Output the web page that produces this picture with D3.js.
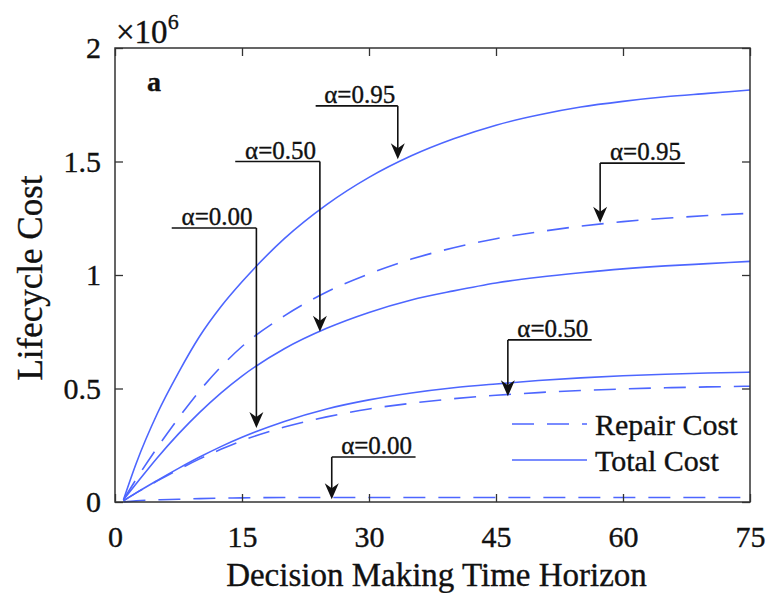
<!DOCTYPE html>
<html>
<head>
<meta charset="utf-8">
<script src="https://cdn.jsdelivr.net/npm/d3@7"></script>
<style>
  body { margin: 0; background: #fff; }
  text { font-family: "Liberation Serif", "Times New Roman", serif; fill: #111; stroke: #111; stroke-width: 0.35px; }
</style>
</head>
<body>
<div id="chart"></div>
<script>
// time horizon (years) and lifecycle costs (x 10^6)
const years = [1, 2.5, 5, 7.5, 10, 12.5, 15, 20, 25, 30, 35, 40, 45, 50, 55, 60, 65, 70, 75];
const total95 = [0.01, 0.17, 0.39, 0.57, 0.73, 0.86, 0.97, 1.16, 1.31, 1.43, 1.525, 1.60, 1.66, 1.705, 1.74, 1.765, 1.785, 1.80, 1.815];
const repair95 = [0.01, 0.10, 0.24, 0.37, 0.49, 0.595, 0.685, 0.82, 0.925, 1.005, 1.07, 1.12, 1.16, 1.19, 1.215, 1.235, 1.25, 1.262, 1.272];
const total50 = [0.01, 0.08, 0.195, 0.30, 0.395, 0.48, 0.555, 0.675, 0.765, 0.835, 0.89, 0.93, 0.965, 0.99, 1.01, 1.027, 1.04, 1.05, 1.06];
const total00 = [0.005, 0.04, 0.095, 0.148, 0.198, 0.244, 0.285, 0.355, 0.41, 0.45, 0.48, 0.503, 0.52, 0.535, 0.547, 0.556, 0.563, 0.568, 0.572];
const repair50 = [0.005, 0.04, 0.093, 0.143, 0.19, 0.232, 0.27, 0.33, 0.375, 0.41, 0.435, 0.455, 0.47, 0.482, 0.491, 0.498, 0.503, 0.507, 0.51];
const repair00 = [0.0, 0.005, 0.01, 0.012, 0.015, 0.017, 0.018, 0.02, 0.02, 0.02, 0.02, 0.02, 0.02, 0.02, 0.02, 0.02, 0.02, 0.02, 0.02];

const xTicks = [0, 15, 30, 45, 60, 75];
const yTicks = [0, 0.5, 1, 1.5, 2];

// annotations: label, underline from t0 to t1 at level, arrow at tip (t, value)
const labels = [
  { text: "α=0.95", t0: 23.7, t1: 33.4, level: 1.745, arrowT: 33.4, tip: 1.51 },
  { text: "α=0.50", t0: 14.2, t1: 24.2, level: 1.50, arrowT: 24.2, tip: 0.75 },
  { text: "α=0.00", t0: 6.7, t1: 16.7, level: 1.207, arrowT: 16.7, tip: 0.326 },
  { text: "α=0.95", t0: 57.3, t1: 67.3, level: 1.493, arrowT: 57.3, tip: 1.23 },
  { text: "α=0.50", t0: 46.4, t1: 56.3, level: 0.714, arrowT: 46.4, tip: 0.466 },
  { text: "α=0.00", t0: 25.6, t1: 35.5, level: 0.198, arrowT: 25.6, tip: 0.012 }
];

const series = [
  { values: total95, dashed: false },
  { values: repair95, dashed: true },
  { values: total50, dashed: false },
  { values: total00, dashed: false },
  { values: repair50, dashed: true },
  { values: repair00, dashed: true }
];

const W = 769, H = 593;
const margin = { top: 48, right: 19, bottom: 91, left: 115 };
const width = W - margin.left - margin.right;
const height = H - margin.top - margin.bottom;
const blue = "#4d66ff";
const dash = "22,13";

const svg = d3.select("#chart").append("svg")
    .attr("width", W)
    .attr("height", H);

const g = svg.append("g")
    .attr("transform", `translate(${margin.left},${margin.top})`);

const x = d3.scaleLinear().domain([0, 75]).range([0, width]);
const y = d3.scaleLinear().domain([0, 2]).range([height, 0]);

// curves
const line = d3.line()
    .x((d, i) => x(years[i]))
    .y(d => y(d))
    .curve(d3.curveMonotoneX);

g.selectAll("path.curve")
    .data(series)
    .enter()
    .append("path")
    .attr("class", "curve")
    .attr("d", d => line(d.values))
    .attr("fill", "none")
    .attr("stroke", blue)
    .attr("stroke-width", 1.6)
    .attr("stroke-dasharray", d => d.dashed ? dash : null);

// axes with inward ticks on all sides
const tickLen = 8;
const axisColor = "#333";
function styleAxis(sel) {
    sel.select(".domain").remove();
    sel.selectAll("line").attr("stroke", axisColor).attr("stroke-width", 1.3);
    sel.selectAll("text")
        .style("font-family", "'Liberation Serif', serif")
        .style("font-size", "30px")
        .attr("fill", "#111");
}

g.append("g")
    .attr("transform", `translate(0,${height})`)
    .call(d3.axisBottom(x).tickValues(xTicks).tickSize(-tickLen).tickPadding(24))
    .call(styleAxis)
    .selectAll("text").attr("dy", "0.71em");

g.append("g")
    .call(d3.axisTop(x).tickValues(xTicks).tickSize(-tickLen).tickFormat(""))
    .call(styleAxis);

g.append("g")
    .call(d3.axisLeft(y).tickValues(yTicks).tickSize(-tickLen).tickPadding(14).tickFormat(d3.format("")))
    .call(styleAxis);

g.append("g")
    .attr("transform", `translate(${width},0)`)
    .call(d3.axisRight(y).tickValues(yTicks).tickSize(-tickLen).tickFormat(""))
    .call(styleAxis);

g.append("rect")
    .attr("width", width)
    .attr("height", height)
    .attr("fill", "none")
    .attr("stroke", axisColor)
    .attr("stroke-width", 1.5);

// annotations
const ann = g.selectAll("g.ann")
    .data(labels)
    .enter()
    .append("g")
    .attr("class", "ann");

ann.append("line")
    .attr("x1", d => x(d.t0))
    .attr("x2", d => x(d.t1))
    .attr("y1", d => y(d.level))
    .attr("y2", d => y(d.level))
    .attr("stroke", "#111")
    .attr("stroke-width", 1.6);

ann.append("line")
    .attr("x1", d => x(d.arrowT))
    .attr("x2", d => x(d.arrowT))
    .attr("y1", d => y(d.level))
    .attr("y2", d => y(d.tip) - 10)
    .attr("stroke", "#111")
    .attr("stroke-width", 1.6);

ann.append("path")
    .attr("d", d => {
        const tx = x(d.arrowT), ty = y(d.tip);
        return `M${tx},${ty} L${tx - 7},${ty - 16} L${tx},${ty - 11} L${tx + 7},${ty - 16} Z`;
    })
    .attr("fill", "#111");

ann.append("text")
    .attr("x", d => (x(d.t0) + x(d.t1)) / 2 + 3)
    .attr("y", d => y(d.level) - 3)
    .attr("text-anchor", "middle")
    .style("font-size", "25px")
    .text(d => d.text);

// panel letter
g.append("text")
    .attr("x", 32)
    .attr("y", 43)
    .style("font-size", "28px")
    .style("font-weight", "bold")
    .text("a");

// legend
const legend = g.append("g");
const legendItems = [
    { name: "Repair Cost", dashed: true },
    { name: "Total Cost", dashed: false }
];
legend.selectAll("line")
    .data(legendItems)
    .enter()
    .append("line")
    .attr("x1", 397)
    .attr("x2", 472)
    .attr("y1", (d, i) => 376 + i * 36)
    .attr("y2", (d, i) => 376 + i * 36)
    .attr("stroke", blue)
    .attr("stroke-width", 1.6)
    .attr("stroke-dasharray", d => d.dashed ? dash : null);

legend.selectAll("text")
    .data(legendItems)
    .enter()
    .append("text")
    .attr("x", 480)
    .attr("y", (d, i) => 376 + i * 36)
    .attr("dy", "0.35em")
    .style("font-size", "30px")
    .text(d => d.name);

// exponent label
const expo = svg.append("text")
    .attr("x", 116)
    .attr("y", 43)
    .style("font-size", "33px");
expo.append("tspan").text("×10");
expo.append("tspan").attr("dy", -14).style("font-size", "22px").text("6");

// axis titles
svg.append("text")
    .attr("x", margin.left + width / 2 + 4)
    .attr("y", 586)
    .attr("text-anchor", "middle")
    .style("font-size", "33px")
    .text("Decision Making Time Horizon");

svg.append("text")
    .attr("transform", `translate(42,278) rotate(-90)`)
    .attr("text-anchor", "middle")
    .style("font-size", "35px")
    .text("Lifecycle Cost");
</script>
</body>
</html>
